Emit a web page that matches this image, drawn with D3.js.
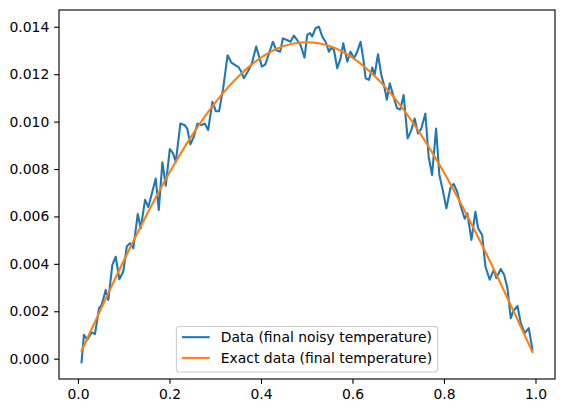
<!DOCTYPE html>
<html>
<head>
<meta charset="utf-8">
<script src="https://cdn.jsdelivr.net/npm/d3@7"></script>
<style>
  body { margin: 0; background: #fff; }
  svg { display: block; font-family: "DejaVu Sans", sans-serif; }
</style>
</head>
<body>
<div id="chart"></div>
<script>
// Noisy data (x, final noisy temperature)
const noisyX = [0.0078, 0.0131, 0.0204, 0.0300, 0.0372, 0.0460, 0.0519, 0.0606, 0.0663, 0.0751,
  0.0825, 0.0904, 0.0991, 0.1066, 0.1138, 0.1210, 0.1306, 0.1372, 0.1466, 0.1538,
  0.1619, 0.1700, 0.1766, 0.1845, 0.1919, 0.2007, 0.2079, 0.2138, 0.2239, 0.2335,
  0.2392, 0.2457, 0.2532, 0.2611, 0.2698, 0.2772, 0.2845, 0.2939, 0.3013, 0.3085,
  0.3173, 0.3271, 0.3348, 0.3420, 0.3508, 0.3567, 0.3626, 0.3713, 0.3801, 0.3895,
  0.4020, 0.4092, 0.4164, 0.4260, 0.4333, 0.4420, 0.4479, 0.4567, 0.4646, 0.4720,
  0.4792, 0.4864, 0.4952, 0.5011, 0.5070, 0.5120, 0.5193, 0.5267, 0.5339, 0.5411,
  0.5486, 0.5536, 0.5595, 0.5667, 0.5740, 0.5799, 0.5886, 0.5958, 0.6033, 0.6105,
  0.6177, 0.6236, 0.6287, 0.6361, 0.6433, 0.6484, 0.6558, 0.6630, 0.6689, 0.6751,
  0.6816, 0.6877, 0.6974, 0.7046, 0.7118, 0.7206, 0.7287, 0.7359, 0.7433, 0.7505,
  0.7593, 0.7665, 0.7740, 0.7827, 0.7899, 0.7972, 0.8053, 0.8140, 0.8212, 0.8287,
  0.8359, 0.8453, 0.8512, 0.8600, 0.8687, 0.8746, 0.8834, 0.8906, 0.9000, 0.9088,
  0.9147, 0.9241, 0.9315, 0.9387, 0.9460, 0.9512, 0.9606, 0.9678, 0.9766, 0.9853,
  0.9934];
const noisyY = [-0.00015, 0.00101, 0.00080, 0.00111, 0.00104, 0.00213, 0.00227, 0.00290, 0.00248, 0.00396,
  0.00430, 0.00335, 0.00368, 0.00473, 0.00487, 0.00466, 0.00610, 0.00550, 0.00670, 0.00640,
  0.00700, 0.00760, 0.00627, 0.00828, 0.00730, 0.00884, 0.00866, 0.00830, 0.00992, 0.00985,
  0.00968, 0.00904, 0.00936, 0.00992, 0.00985, 0.00992, 0.00964, 0.01083, 0.01044, 0.01044,
  0.01140, 0.01280, 0.01250, 0.01240, 0.01230, 0.01211, 0.01183, 0.01211, 0.01246, 0.01317,
  0.01232, 0.01240, 0.01281, 0.01337, 0.01302, 0.01295, 0.01351, 0.01344, 0.01337, 0.01363,
  0.01344, 0.01323, 0.01270, 0.01366, 0.01373, 0.01359, 0.01394, 0.01400, 0.01359, 0.01337,
  0.01295, 0.01312, 0.01302, 0.01225, 0.01267, 0.01330, 0.01253, 0.01295, 0.01267, 0.01295,
  0.01337, 0.01267, 0.01183, 0.01176, 0.01228, 0.01197, 0.01284, 0.01197, 0.01155, 0.01092,
  0.01162, 0.01119, 0.01056, 0.01051, 0.01112, 0.00929, 0.00964, 0.01013, 0.00950, 0.00971,
  0.01034, 0.00852, 0.00775, 0.00971, 0.00775, 0.00712, 0.00634, 0.00719, 0.00737, 0.00705,
  0.00648, 0.00590, 0.00613, 0.00501, 0.00620, 0.00550, 0.00522, 0.00389, 0.00333, 0.00375,
  0.00340, 0.00378, 0.00354, 0.00298, 0.00171, 0.00199, 0.00223, 0.00150, 0.00108, 0.00129,
  0.00038];

// Exact (smooth) curve
const exactX = [0.0078, 0.05, 0.10, 0.15, 0.20, 0.25, 0.30, 0.35, 0.40, 0.45, 0.50,
  0.55, 0.60, 0.65, 0.70, 0.75, 0.80, 0.85, 0.90, 0.95, 0.9934];
const exactY = [0.00033, 0.00209, 0.00413, 0.00606, 0.00785, 0.00944, 0.01080, 0.01189, 0.01270, 0.01319, 0.01335,
  0.01319, 0.01270, 0.01189, 0.01080, 0.00944, 0.00785, 0.00606, 0.00413, 0.00209, 0.00028];

const xTicks = [0.0, 0.2, 0.4, 0.6, 0.8, 1.0];
const yTicks = [0.000, 0.002, 0.004, 0.006, 0.008, 0.010, 0.012, 0.014];
const seriesLabels = ["Data (final noisy temperature)", "Exact data (final temperature)"];
const seriesColors = ["#1f77b4", "#ff7f0e"];

const W = 565, H = 413;
const margin = { top: 10, right: 10, bottom: 34, left: 59 };
const width = W - margin.left - margin.right;
const height = H - margin.top - margin.bottom;
const fontSize = 13.9;
const pt = 100 / 72; // matplotlib points -> px at 100 dpi

const svg = d3.select("#chart").append("svg")
    .attr("width", W)
    .attr("height", H);

const g = svg.append("g")
    .attr("transform", `translate(${margin.left},${margin.top})`);

// matplotlib style 5% margins around the data extent
const pad = (ext) => {
    const r = ext[1] - ext[0];
    return [ext[0] - 0.05 * r, ext[1] + 0.05 * r];
};
const allX = noisyX.concat(exactX);
const allY = noisyY.concat(exactY);

const x = d3.scaleLinear().domain(pad(d3.extent(allX))).range([0, width]);
const y = d3.scaleLinear().domain(pad(d3.extent(allY))).range([height, 0]);

const noisy = noisyX.map((v, i) => [v, noisyY[i]]);
const exact = exactX.map((v, i) => [v, exactY[i]]);

g.append("clipPath").attr("id", "clip")
    .append("rect").attr("width", width).attr("height", height);

const plot = g.append("g").attr("clip-path", "url(#clip)");

plot.append("path")
    .datum(noisy)
    .attr("fill", "none")
    .attr("stroke", seriesColors[0])
    .attr("stroke-width", 1.5 * pt)
    .attr("stroke-linejoin", "round")
    .attr("stroke-linecap", "square")
    .attr("d", d3.line().x(d => x(d[0])).y(d => y(d[1])));

plot.append("path")
    .datum(exact)
    .attr("fill", "none")
    .attr("stroke", seriesColors[1])
    .attr("stroke-width", 1.5 * pt)
    .attr("stroke-linejoin", "round")
    .attr("stroke-linecap", "square")
    .attr("d", d3.line().curve(d3.curveMonotoneX).x(d => x(d[0])).y(d => y(d[1])));

// Axes
const xAxis = g.append("g")
    .attr("transform", `translate(0,${height})`)
    .call(d3.axisBottom(x).tickValues(xTicks).tickFormat(d3.format(".1f")).tickSize(3.5 * pt).tickPadding(3.5 * pt));

const yAxis = g.append("g")
    .call(d3.axisLeft(y).tickValues(yTicks).tickFormat(d3.format(".3f")).tickSize(3.5 * pt).tickPadding(3.5 * pt));

[xAxis, yAxis].forEach(a => {
    a.select(".domain").remove();
    a.selectAll(".tick line").attr("stroke", "#000").attr("stroke-width", 0.8 * pt);
    a.selectAll(".tick text")
        .attr("fill", "#000")
        .style("font-size", fontSize + "px")
        .style("font-family", "DejaVu Sans, sans-serif");
});

// Frame
g.append("rect")
    .attr("width", width)
    .attr("height", height)
    .attr("fill", "none")
    .attr("stroke", "#000")
    .attr("stroke-width", 0.8 * pt);

// Legend (lower center)
const em = fontSize;
const legend = g.append("g");
const box = legend.append("rect")
    .attr("fill", "#fff")
    .attr("fill-opacity", 0.8)
    .attr("stroke", "#cccccc")
    .attr("stroke-width", 0.8 * pt)
    .attr("rx", 0.2 * em)
    .attr("ry", 0.2 * em);

const rowH = 13.77;
const texts = seriesLabels.map((label, i) => {
    const cy = 0.4 * em + rowH / 2 - 1.7 + i * (rowH + 0.5 * em);
    legend.append("line")
        .attr("x1", 0.4 * em)
        .attr("x2", 0.4 * em + 2 * em)
        .attr("y1", cy)
        .attr("y2", cy)
        .attr("stroke", seriesColors[i])
        .attr("stroke-width", 1.5 * pt);
    return legend.append("text")
        .attr("x", 0.4 * em + 2.8 * em)
        .attr("y", cy)
        .attr("dy", "0.38em")
        .style("font-size", fontSize + "px")
        .text(label);
});

const textW = d3.max(texts, t => t.node().getComputedTextLength());
const legW = 0.4 * em + 2.8 * em + textW + 0.4 * em;
const legH = 0.4 * em * 2 + rowH * 2 + 0.5 * em;
box.attr("width", legW).attr("height", legH);
legend.attr("transform", `translate(${(width - legW) / 2},${height - 0.5 * em - legH})`);
</script>
</body>
</html>
